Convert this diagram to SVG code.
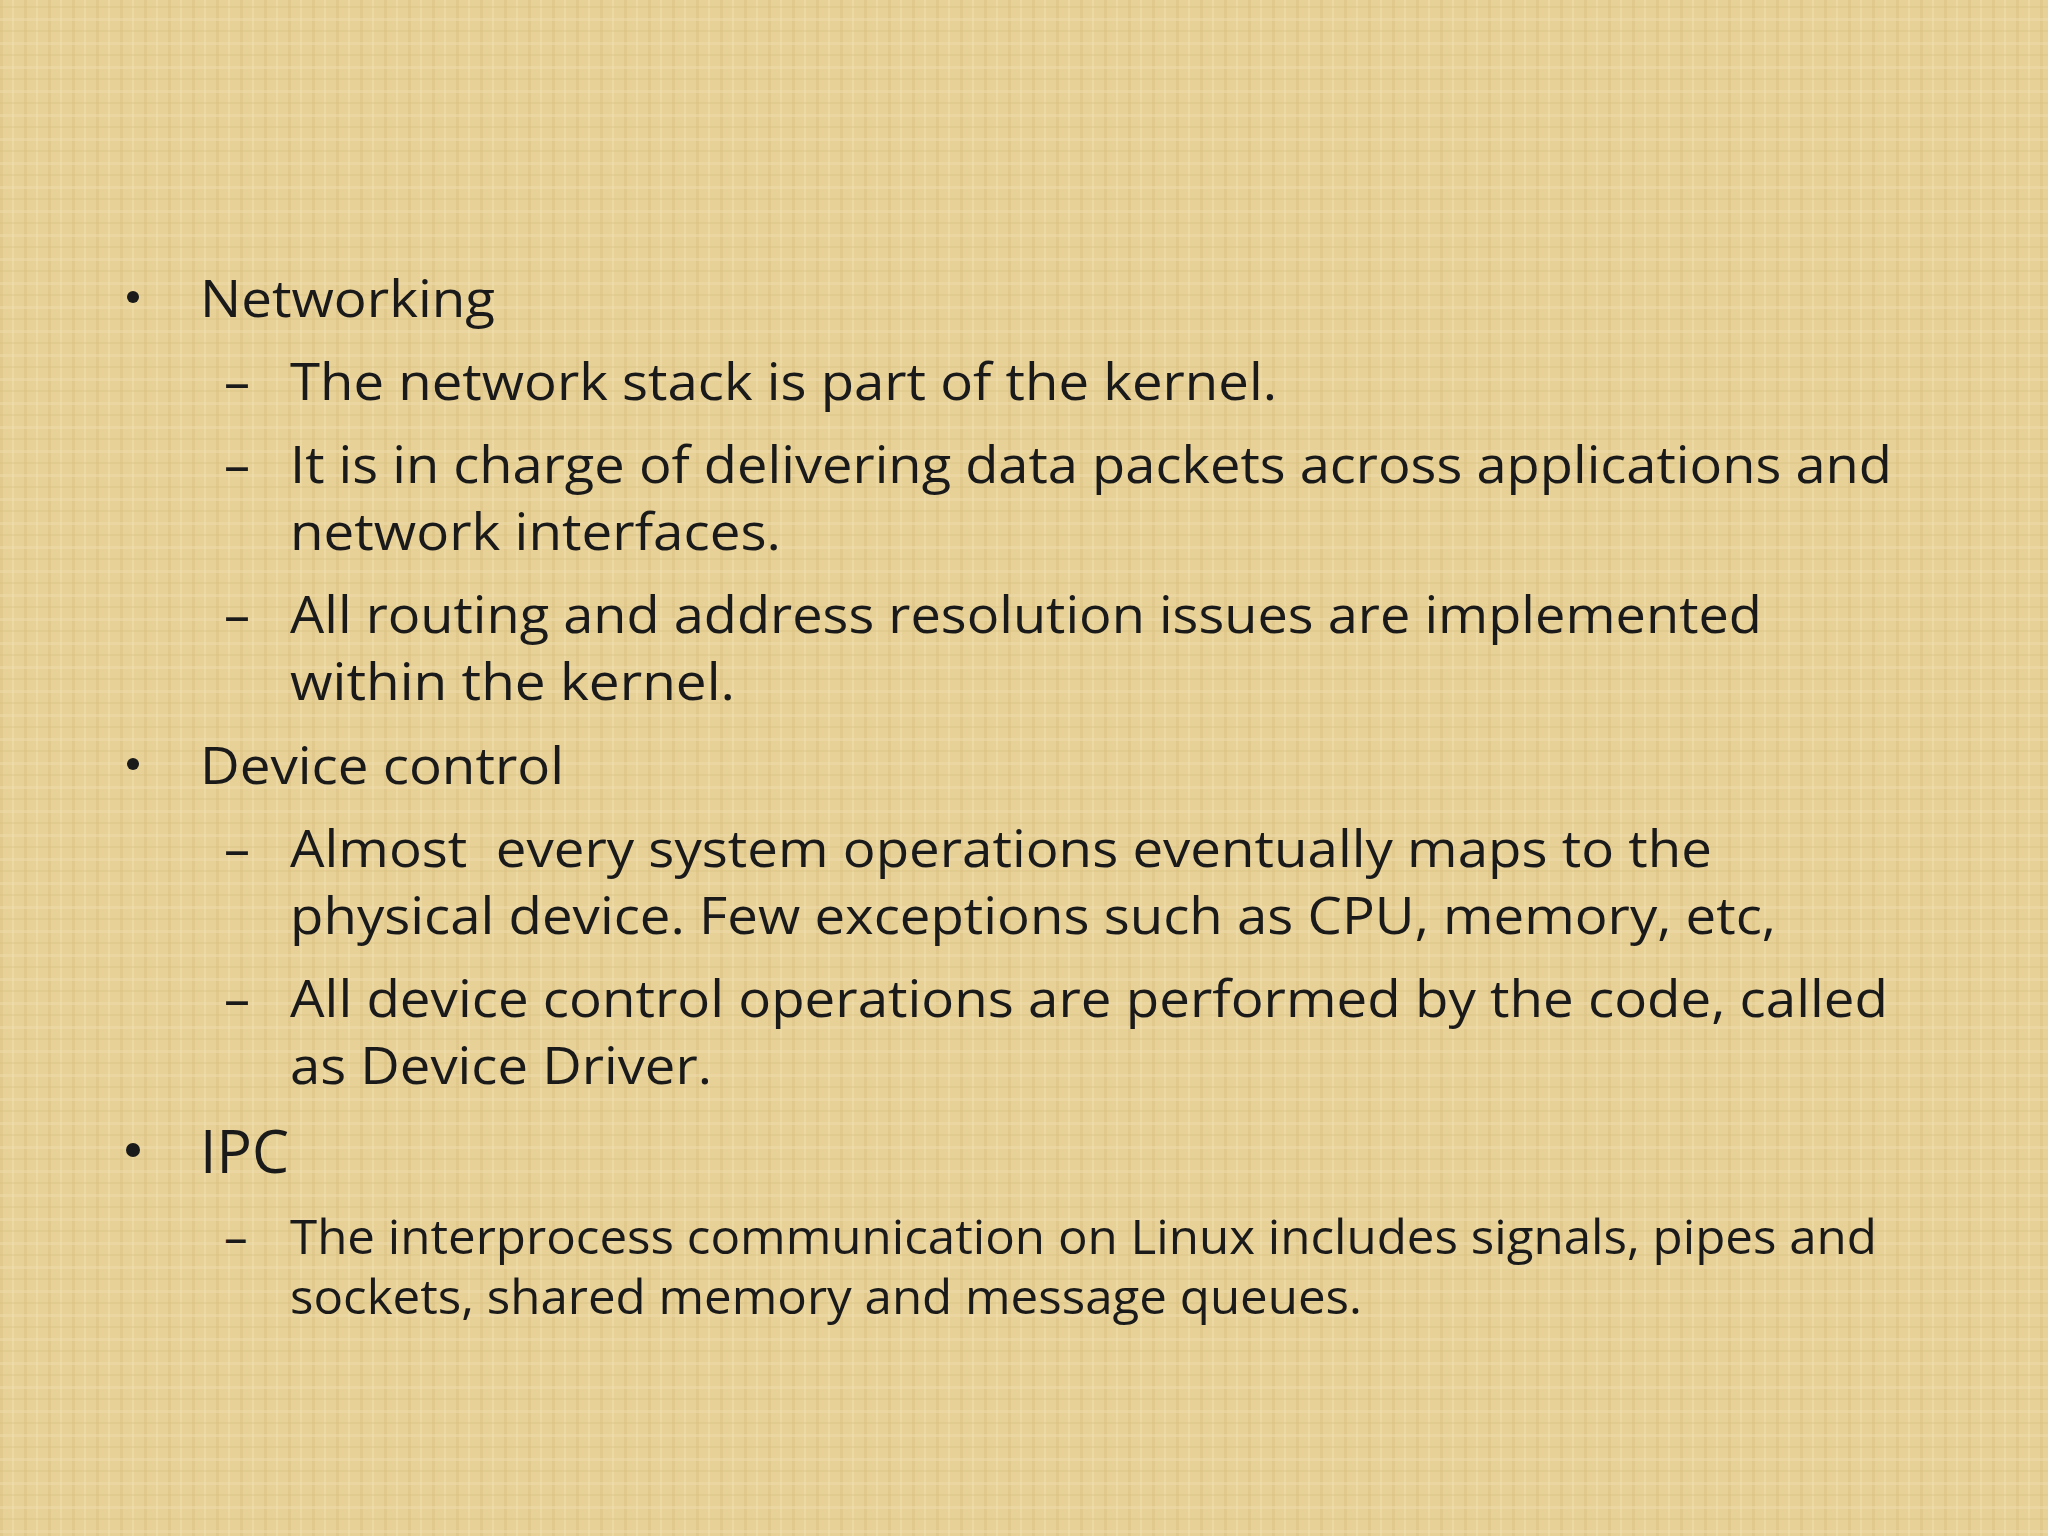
<svg xmlns="http://www.w3.org/2000/svg" width="2048" height="1536" viewBox="0 0 2048 1536">
<defs>
<pattern id="weave" width="24" height="24" patternUnits="userSpaceOnUse">
<rect width="24" height="24" fill="#e7d197"/>
<rect x="0" width="3" height="24" fill="#dcc286" opacity="0.5"/>
<rect x="12" width="2" height="24" fill="#efdcab" opacity="0.6"/>
<rect y="6" width="24" height="2" fill="#d9be80" opacity="0.35"/>
<rect y="18" width="24" height="3" fill="#f0dfb0" opacity="0.4"/>
</pattern>
<style>
text{font-family:"Open Sans","Noto Sans",sans-serif;fill:#1a1a1a}
.m{font-size:52px}
.s{font-size:47px}
.b{font-size:60px}
</style>
</defs>
<rect width="2048" height="1536" fill="url(#weave)"/>
<g>
<circle cx="133" cy="297" r="6" fill="#1a1a1a"/>
<text class="m" x="200" y="317" textLength="295" lengthAdjust="spacingAndGlyphs">Networking</text>
<text class="m" x="224" y="400">–</text>
<text class="m" x="290" y="400" textLength="987" lengthAdjust="spacingAndGlyphs">The network stack is part of the kernel.</text>
<text class="m" x="224" y="483">–</text>
<text class="m" x="290" y="483" textLength="1602" lengthAdjust="spacingAndGlyphs">It is in charge of delivering data packets across applications and</text>
<text class="m" x="290" y="550" textLength="491" lengthAdjust="spacingAndGlyphs">network interfaces.</text>
<text class="m" x="224" y="633">–</text>
<text class="m" x="290" y="633" textLength="1472" lengthAdjust="spacingAndGlyphs">All routing and address resolution issues are implemented</text>
<text class="m" x="290" y="700" textLength="445" lengthAdjust="spacingAndGlyphs">within the kernel.</text>
<circle cx="133" cy="764" r="6" fill="#1a1a1a"/>
<text class="m" x="200" y="784" textLength="364" lengthAdjust="spacingAndGlyphs">Device control</text>
<text class="m" x="224" y="867">–</text>
<text class="m" x="290" y="867" textLength="1422" lengthAdjust="spacingAndGlyphs" xml:space="preserve">Almost  every system operations eventually maps to the</text>
<text class="m" x="290" y="934" textLength="1486" lengthAdjust="spacingAndGlyphs">physical device. Few exceptions such as CPU, memory, etc,</text>
<text class="m" x="224" y="1017">–</text>
<text class="m" x="290" y="1017" textLength="1598" lengthAdjust="spacingAndGlyphs">All device control operations are performed by the code, called</text>
<text class="m" x="290" y="1084" textLength="422" lengthAdjust="spacingAndGlyphs">as Device Driver.</text>
<circle cx="133" cy="1150" r="7" fill="#1a1a1a"/>
<text class="b" x="200" y="1173" textLength="89" lengthAdjust="spacingAndGlyphs">IPC</text>
<text class="s" x="224" y="1254">–</text>
<text class="s" x="290" y="1254" textLength="1587" lengthAdjust="spacingAndGlyphs">The interprocess communication on Linux includes signals, pipes and</text>
<text class="s" x="290" y="1314" textLength="1072" lengthAdjust="spacingAndGlyphs">sockets, shared memory and message queues.</text>
</g>
</svg>
